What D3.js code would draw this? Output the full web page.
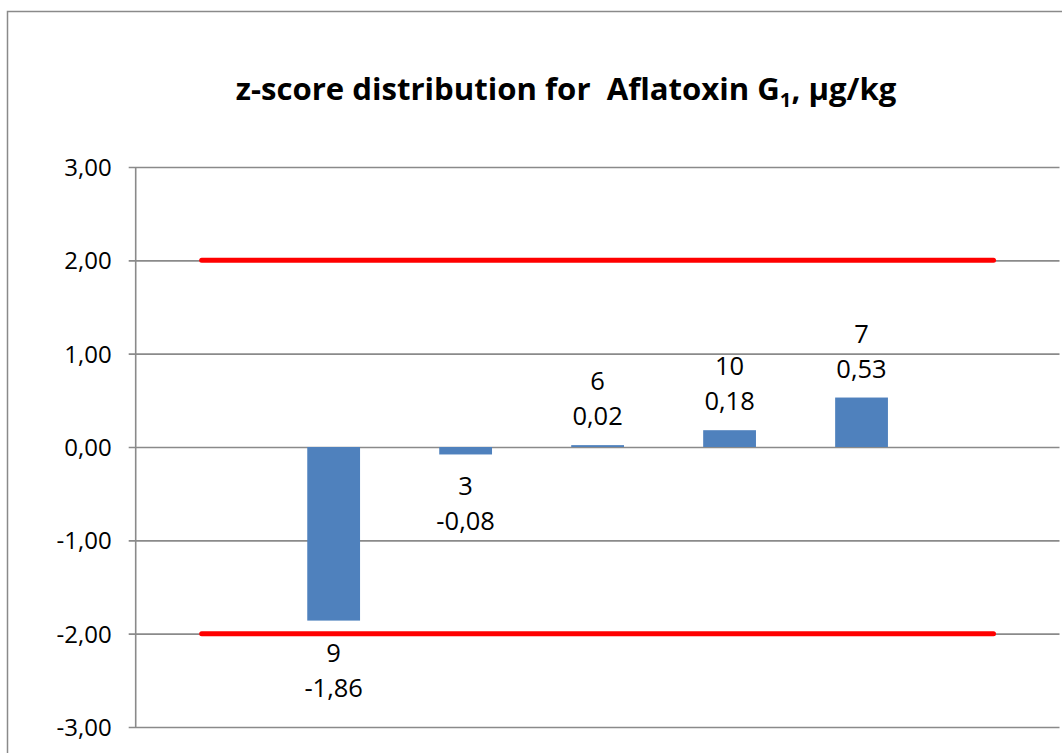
<!DOCTYPE html>
<html>
<head>
<meta charset="utf-8">
<script src="https://cdn.jsdelivr.net/npm/d3@7"></script>
<style>
  html, body { margin: 0; padding: 0; background: #fff; }
  svg { display: block; }
  text { font-family: "Open Sans", "Noto Sans", sans-serif; fill: #000; }
</style>
</head>
<body>
<svg id="chart" width="1062" height="753"></svg>
<script>
// ---- data ----
const categories = ["", "9", "3", "6", "10", "7", ""];
const zScores = [null, -1.86, -0.08, 0.02, 0.18, 0.53, null];
const upperLimit = [2, 2, 2, 2, 2, 2, 2];
const lowerLimit = [-2, -2, -2, -2, -2, -2, -2];
const yTicks = [-3, -2, -1, 0, 1, 2, 3];
const titleMain = "z-score distribution for  Aflatoxin G";
const titleSub = "1";
const titleTail = ", µg/kg";

const svg = d3.select("#chart");
const plot = { left: 135.7, right: 1059.5, top: 167, bottom: 727 };

// outer chart border
svg.append("rect")
  .attr("x", 7.5).attr("y", 11.5)
  .attr("width", 1200).attr("height", 900)
  .attr("fill", "none").attr("stroke", "#8a8a8a").attr("stroke-width", 1.5);

const x = d3.scaleBand().domain(d3.range(categories.length))
  .range([plot.left, plot.right]).paddingInner(0).paddingOuter(0);
const y = d3.scaleLinear().domain([-3, 3]).range([plot.bottom, plot.top]);
const fmt = v => d3.format(".2f")(v).replace(".", ",").replace("\u2212", "-");

// gridlines + axis
const yAxis = d3.axisLeft(y).tickValues(yTicks).tickFormat(fmt)
  .tickSize(-(plot.right - plot.left)).tickPadding(0);
const gy = svg.append("g").attr("transform", `translate(${plot.left},0)`).call(yAxis);
gy.select(".domain").remove();
gy.selectAll(".tick line").attr("stroke", "#8a8a8a").attr("stroke-width", 1.6)
  .attr("x1", -7);
gy.selectAll(".tick text").attr("x", -24).attr("dy", "0.35em")
  .style("font-size", "24px").style("font-family", "'Open Sans', sans-serif").attr("fill", "#000");
svg.append("line")
  .attr("x1", plot.left).attr("x2", plot.left)
  .attr("y1", y(3)).attr("y2", y(-3))
  .attr("stroke", "#8a8a8a").attr("stroke-width", 1.6);

// bars
const bw = x.bandwidth() / 2.5;
const barData = zScores.map((v, i) => ({ v, i, id: categories[i] })).filter(d => d.v !== null);
svg.append("g").selectAll("rect").data(barData).join("rect")
  .attr("x", d => x(d.i) + x.bandwidth() / 2 - bw / 2)
  .attr("width", bw)
  .attr("y", d => y(Math.max(0, d.v)))
  .attr("height", d => Math.abs(y(d.v) - y(0)))
  .attr("fill", "#4F81BD");

// limit lines
const line = d3.line().x((d, i) => x(i) + x.bandwidth() / 2).y(d => y(d));
[upperLimit, lowerLimit].forEach(arr => {
  svg.append("path").datum(arr).attr("d", line)
    .attr("fill", "none").attr("stroke", "#FF0000")
    .attr("stroke-width", 5).attr("stroke-linecap", "round");
});

// data labels
const lbl = svg.append("g").style("font-size", "25.5px").attr("text-anchor", "middle");
barData.forEach(d => {
  const cx = x(d.i) + x.bandwidth() / 2;
  let idY, valY;
  if (d.v >= 0) { valY = y(d.v) - 20; idY = valY - 35; }
  else { idY = y(d.v) + 41; valY = idY + 35; }
  lbl.append("text").attr("x", cx).attr("y", idY).text(d.id);
  lbl.append("text").attr("x", cx).attr("y", valY).text(fmt(d.v));
});

// title
const title = svg.append("text").attr("x", 566).attr("y", 100)
  .attr("text-anchor", "middle").style("white-space", "pre")
  .style("font-weight", "bold").style("font-size", "29px");
title.append("tspan").style("white-space", "pre").text(titleMain);
title.append("tspan").attr("dy", 7).style("font-size", "19px").text(titleSub);
title.append("tspan").attr("dy", -7).text(titleTail);
// fit title to measured width in reference
const tw = title.node().getComputedTextLength();
const target = 661;
const s = 29 * target / tw;
title.style("font-size", s + "px");
title.select("tspan:nth-child(2)").style("font-size", (s * 0.65) + "px");
</script>
</body>
</html>
